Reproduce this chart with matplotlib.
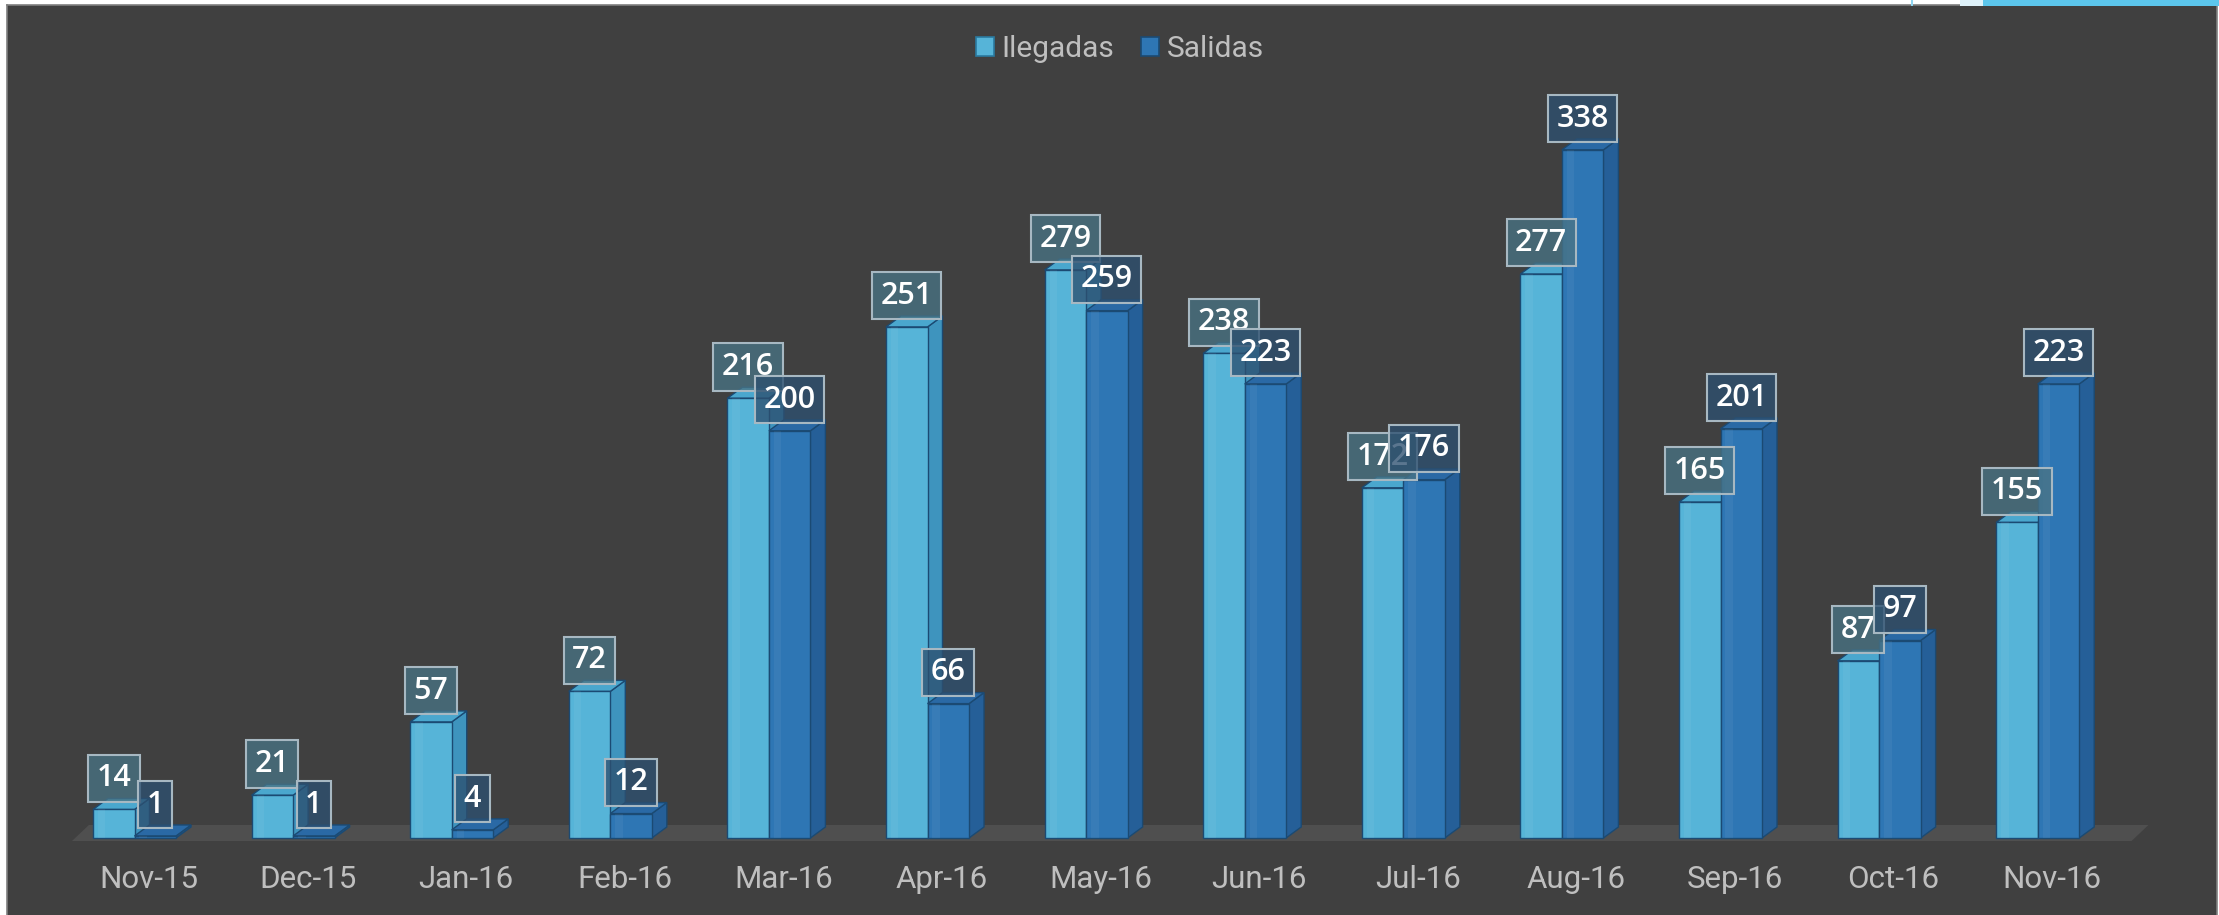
import matplotlib
matplotlib.use("Agg")
import matplotlib.pyplot as plt
from matplotlib.patches import Polygon, Rectangle, Patch

# ---- data ----
months = ["Nov-15", "Dec-15", "Jan-16", "Feb-16", "Mar-16", "Apr-16", "May-16",
          "Jun-16", "Jul-16", "Aug-16", "Sep-16", "Oct-16", "Nov-16"]
llegadas = [14, 21, 57, 72, 216, 251, 279, 238, 172, 277, 165, 87, 155]
salidas = [1, 1, 4, 12, 200, 66, 259, 223, 176, 338, 201, 97, 223]
series_names = ["Ilegadas", "Salidas"]

# ---- style ----
W, H = 2219, 915
BG = "#404040"
FLOOR = "#4f4f4f"
TXT = "#bfbfbf"
EDGE = "#1b4a73"
IL = dict(front="#56b4d8", side="#3e94be", top="#4aa7ce", box=(72/255, 115/255, 132/255))
SA = dict(front="#2e76b4", side="#255f98", top="#2a69a5", box=(45/255, 80/255, 112/255))

fig = plt.figure(figsize=(W / 100, H / 100), dpi=100)
fig.patch.set_facecolor("white")

# decorative slide strip at top right
fig.patches.append(Rectangle((1960 / W, 1 - 6 / H), 23 / W, 6 / H, transform=fig.transFigure,
                             facecolor="#dff2fa", edgecolor="none", zorder=0))
fig.patches.append(Rectangle((1983 / W, 1 - 6 / H), 236 / W, 6 / H, transform=fig.transFigure,
                             facecolor="#5cc6ec", edgecolor="none", zorder=0))
fig.patches.append(Rectangle((1911 / W, 1 - 6 / H), 2 / W, 6 / H, transform=fig.transFigure,
                             facecolor="#8fd6f2", edgecolor="none", zorder=0))

# chart area background
bg_ax = fig.add_axes([7 / W, 0, (2217 - 7) / W, (H - 5) / H])
bg_ax.set_facecolor(BG)
bg_ax.set_xticks([])
bg_ax.set_yticks([])
for s in bg_ax.spines.values():
    s.set_color("#7f7f7f")
    s.set_linewidth(1.2)
bg_ax.spines["bottom"].set_visible(False)

# data axes mapped onto pixel geometry
ax = fig.add_axes([0, 0, 1, 1])
ax.patch.set_alpha(0)
x0_px, step_px = 149.0, 158.6
base_px, unit_px = 77.0, 2.036
ax.set_xlim(-x0_px / step_px, (W - x0_px) / step_px)
ax.set_ylim(-base_px / unit_px, (H - base_px) / unit_px)
ax.axis("off")

dx = 15 / step_px
dy = 11 / unit_px
bw = 41.5 / step_px
off_il = -56 / step_px

# floor
fdx = 17 / step_px
f_lo, f_hi = -1.5, 6.4
floor = Polygon([(-0.486, f_lo), (12.50, f_lo), (12.50 + fdx, f_hi), (-0.486 + fdx, f_hi)],
                closed=True, facecolor=FLOOR, edgecolor="none", zorder=1)
ax.add_patch(floor)


def bar3d(x, v, c, z):
    x1 = x + bw
    front = Polygon([(x, 0), (x1, 0), (x1, v), (x, v)], closed=True,
                    facecolor=c["front"], edgecolor=EDGE, linewidth=1.0, zorder=z)
    side = Polygon([(x1, 0), (x1 + dx, dy), (x1 + dx, v + dy), (x1, v)], closed=True,
                   facecolor=c["side"], edgecolor=EDGE, linewidth=1.0, zorder=z)
    top = Polygon([(x, v), (x1, v), (x1 + dx, v + dy), (x + dx, v + dy)], closed=True,
                  facecolor=c["top"], edgecolor=EDGE, linewidth=1.0, zorder=z)
    for p in (side, top, front):
        ax.add_patch(p)
    # subtle highlight stripe on front face
    ax.add_patch(Rectangle((x + bw * 0.12, 0), bw * 0.18, v, facecolor="white",
                           alpha=0.05, edgecolor="none", zorder=z + 0.001))


for i, (a, b) in enumerate(zip(llegadas, salidas)):
    xa = i + off_il
    xb = xa + bw
    bar3d(xa, a, IL, 2 + i * 0.01)
    bar3d(xb, b, SA, 2.005 + i * 0.01)

# data labels
lab_font = dict(family=["Open Sans", "DejaVu Sans"], size=22, weight="semibold", color="white")
for i, (a, b) in enumerate(zip(llegadas, salidas)):
    xa = i + off_il
    xb = xa + bw
    for xv, v, c, z in ((xa + bw / 2, a, IL, 10), (xb + bw / 2, b, SA, 11)):
        ax.annotate(str(v), xy=(xv, v), xytext=(0, 22.5), textcoords="offset points",
                    ha="center", va="center", zorder=z, **lab_font,
                    bbox=dict(boxstyle="square,pad=0.28", facecolor=(*c["box"], 0.78),
                              edgecolor="#a7b8c2", linewidth=1.5))

# category labels
for i, m in enumerate(months):
    ax.text(i, (H - 879 - base_px) / unit_px, m, ha="center", va="center",
            color=TXT, fontsize=22.5, family=["Roboto", "DejaVu Sans"], zorder=5)

# legend
handles = [Patch(facecolor=IL["front"], edgecolor="#2a7aa0", linewidth=1.2),
           Patch(facecolor=SA["front"], edgecolor="#1b4a73", linewidth=1.2)]
leg = fig.legend(handles, series_names, loc="center", bbox_to_anchor=(1120 / W, 1 - 49 / H),
                 ncol=2, frameon=False, handlelength=0.6, handleheight=0.6,
                 handletextpad=0.25, columnspacing=0.9,
                 prop=dict(family=["Roboto", "DejaVu Sans"], size=21.5))
for t in leg.get_texts():
    t.set_color(TXT)

fig.savefig("out.png", dpi=100, facecolor=fig.get_facecolor())
